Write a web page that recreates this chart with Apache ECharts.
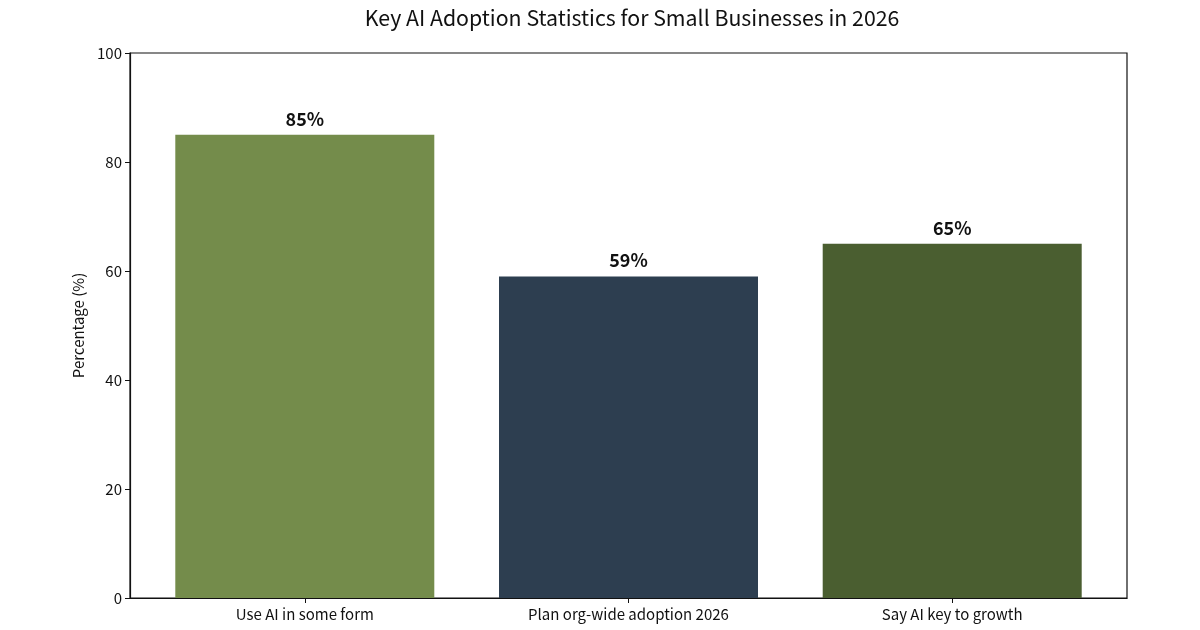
<!DOCTYPE html>
<html>
<head>
<meta charset="utf-8">
<script src="https://cdn.jsdelivr.net/npm/echarts@6/dist/echarts.min.js"></script>
<style>html,body{margin:0;padding:0;background:#fff;}#c{width:1200px;height:630px;}</style>
</head>
<body>
<div id="c"></div>
<script>
const categories = ["Use AI in some form", "Plan org-wide adoption 2026", "Say AI key to growth"];
const values = [85, 59, 65];
const barColors = ["#748c4b", "#2d3e50", "#4a5e30"];
const yTicks = [0, 20, 40, 60, 80, 100];

const FONT = '"Noto Sans CJK SC", "Noto Sans", sans-serif';
const chart = echarts.init(document.getElementById('c'));
chart.setOption({
  animation: false,
  backgroundColor: '#fff',
  title: {
    text: 'Key AI Adoption Statistics for Small Businesses in 2026',
    left: 627, textAlign: 'center', top: 2,
    textStyle: { fontFamily: FONT, fontSize: 21.3, fontWeight: 'normal', color: '#111' }
  },
  grid: { left: 130, right: 73, top: 53, bottom: 32, show: true, borderColor: '#111', borderWidth: 1.2, containLabel: false },
  xAxis: {
    type: 'value', min: -0.54, max: 2.54,
    splitLine: { show: false },
    axisLine: { show: true, onZero: false, lineStyle: { color: '#111', width: 1.2 } },
    axisTick: { show: true, customValues: [0, 1, 2], length: 5, lineStyle: { color: '#111' } },
    axisLabel: {
      customValues: [0, 1, 2], margin: 9,
      formatter: v => categories[Math.round(v)] || '',
      fontFamily: FONT, fontSize: 15, color: '#111'
    }
  },
  yAxis: {
    type: 'value', min: 0, max: 100, interval: 20,
    name: 'Percentage (%)', nameLocation: 'middle', nameGap: 44,
    nameTextStyle: { fontFamily: FONT, fontSize: 15, color: '#111' },
    splitLine: { show: false },
    axisLine: { show: true, onZero: false, lineStyle: { color: '#111', width: 1.2 } },
    axisTick: { show: true, length: 5, lineStyle: { color: '#111' } },
    axisLabel: { fontFamily: FONT, fontSize: 15, color: '#111', margin: 8,
      formatter: v => yTicks.includes(v) ? String(v) : '' }
  },
  series: [{
    type: 'bar',
    barWidth: 259,
    data: values.map((v, i) => ({ value: [i, v], itemStyle: { color: barColors[i] } })),
    label: {
      show: true, position: 'top', distance: 7,
      formatter: p => p.value[1] + '%',
      fontFamily: FONT, fontSize: 18, fontWeight: 'bold', color: '#111'
    }
  }]
});
</script>
</body>
</html>
